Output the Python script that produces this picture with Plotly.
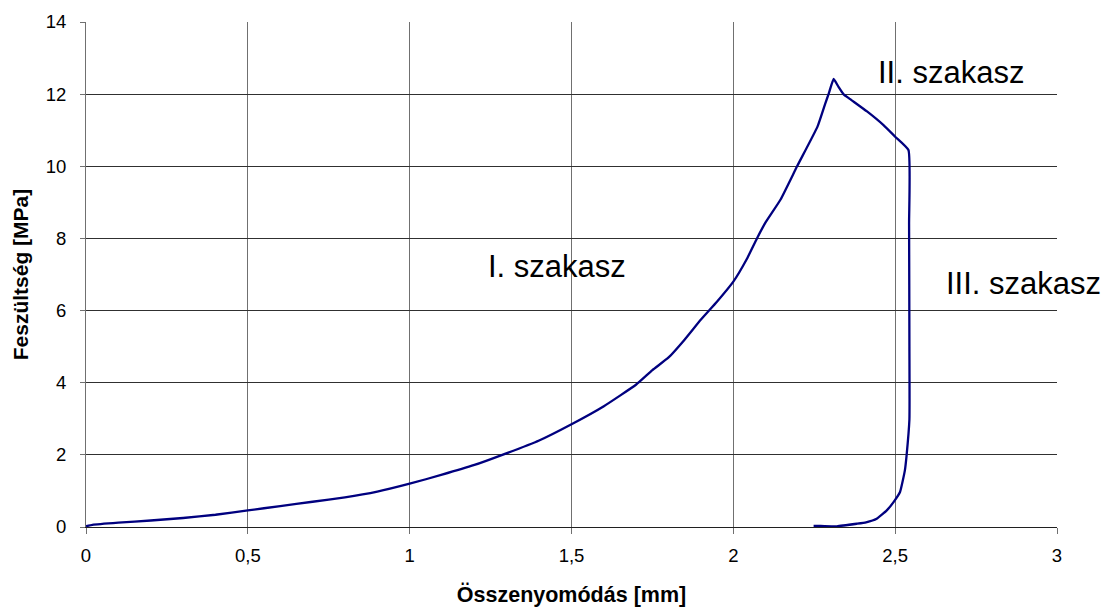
import plotly.graph_objects as go

# Compression test: stress vs. deformation
deformation_mm = [0, 0.02, 0.1, 0.2, 0.3, 0.4, 0.5, 0.6, 0.7, 0.8, 0.9, 1.0, 1.1, 1.2,
                  1.28, 1.4, 1.5, 1.6, 1.7, 1.75, 1.8, 1.85, 1.9, 1.95, 2.0, 2.04,
                  2.073, 2.1, 2.146, 2.197, 2.26, 2.284, 2.295, 2.31, 2.325, 2.34,
                  2.361, 2.413, 2.464, 2.5, 2.541, 2.543, 2.544, 2.544, 2.535, 2.53,
                  2.515, 2.495, 2.474, 2.443, 2.41, 2.381, 2.32, 2.27, 2.248]
stress_mpa = [0.02, 0.06, 0.12, 0.18, 0.25, 0.34, 0.46, 0.58, 0.7, 0.82, 0.98, 1.2, 1.45,
              1.72, 1.98, 2.4, 2.85, 3.35, 3.95, 4.35, 4.7, 5.2, 5.75, 6.25, 6.8, 7.4,
              8.0, 8.45, 9.08, 10.0, 11.1, 11.74, 12.02, 12.42, 12.2, 12.0,
              11.86, 11.52, 11.14, 10.82, 10.45, 8.4, 5.0, 2.98, 1.96, 1.57,
              0.97, 0.69, 0.46, 0.23, 0.13, 0.09, 0.02, 0.03, 0.03]

x_ticks = [0, 0.5, 1, 1.5, 2, 2.5, 3]
x_tick_labels = ["0", "0,5", "1", "1,5", "2", "2,5", "3"]
y_ticks = [0, 2, 4, 6, 8, 10, 12, 14]

section_labels = ["I. szakasz", "II. szakasz", "III. szakasz"]
section_x = [1.236, 2.44, 2.65]
section_y = [7.22, 12.6, 6.75]

FONT = "Liberation Sans, Arial, sans-serif"

fig = go.Figure()
fig.add_trace(go.Scatter(
    x=deformation_mm, y=stress_mpa, mode="lines",
    line=dict(color="#00007F", width=2.3, shape="spline", smoothing=0.4),
    showlegend=False, hoverinfo="x+y",
))

for text, lx, ly in zip(section_labels, section_x, section_y):
    fig.add_annotation(x=lx, y=ly, xref="x", yref="y", text=text,
                       showarrow=False, xanchor="left", yanchor="middle",
                       font=dict(family=FONT, size=31, color="#000000"))

fig.update_layout(
    width=1105, height=608,
    margin=dict(l=86, r=48, t=22, b=81, autoexpand=False),
    paper_bgcolor="white", plot_bgcolor="white",
    separators=", ",
    font=dict(family=FONT, color="#000000"),
    showlegend=False,
)

fig.update_xaxes(
    range=[0, 3], tickvals=x_ticks, ticktext=x_tick_labels,
    showgrid=True, gridcolor="#707070", gridwidth=1,
    showline=True, linecolor="#202020", linewidth=1,
    ticks="outside", ticklen=6, tickcolor="#707070",
    tickfont=dict(family=FONT, size=18.5, color="#000000"),
    ticklabelstandoff=6,
    zeroline=False,
    title=dict(text="<b>Összenyomódás [mm]</b>",
               font=dict(family=FONT, size=21.5, color="#000000"), standoff=21),
)
fig.update_yaxes(
    range=[0, 14], tickvals=y_ticks,
    showgrid=True, gridcolor="#303030", gridwidth=1,
    showline=True, linecolor="#707070", linewidth=1,
    ticks="outside", ticklen=5, tickcolor="#707070",
    tickfont=dict(family=FONT, size=18.5, color="#000000"),
    ticklabelstandoff=10,
    zeroline=False,
    title=dict(text="<b>Feszültség [MPa]</b>",
               font=dict(family=FONT, size=21, color="#000000"), standoff=11),
)

fig.write_html("out.html")
